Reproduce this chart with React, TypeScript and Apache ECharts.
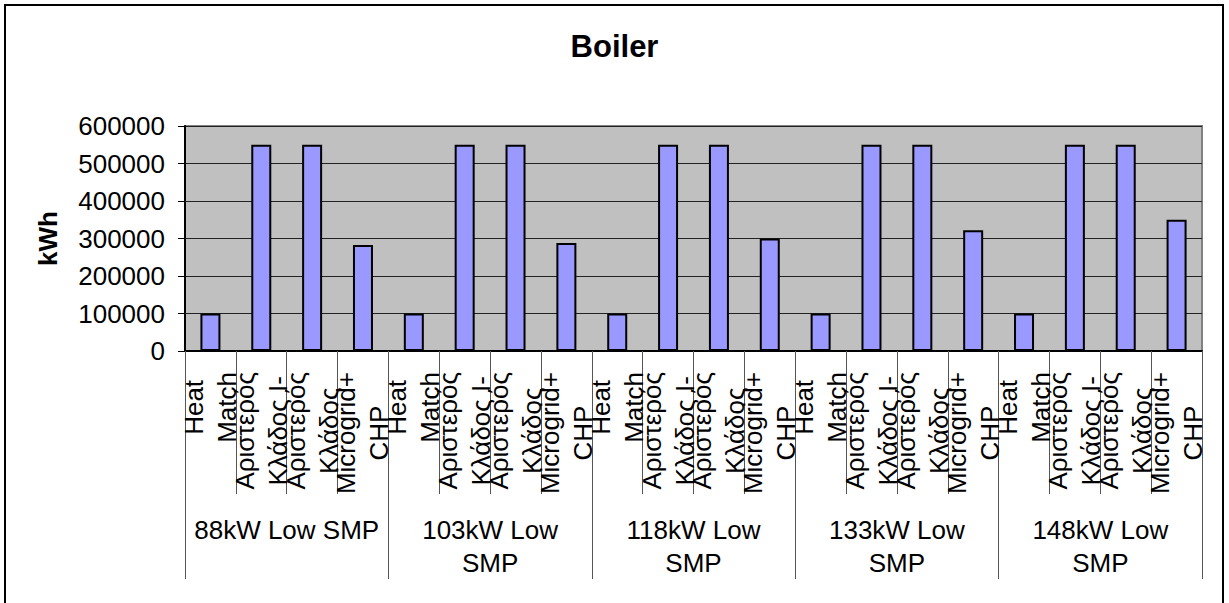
import React, { useEffect, useRef } from "react";
import * as echarts from "echarts";

// Groups (outer level of the category axis)
const groupLabels = [
  "88kW Low SMP",
  "103kW Low\nSMP",
  "118kW Low\nSMP",
  "133kW Low\nSMP",
  "148kW Low\nSMP",
];

// Categories inside each group (inner level)
const subLabels = [
  "Heat\nMatch",
  "Αριστερός\nΚλάδος I-",
  "Αριστερός\nΚλάδος",
  "Microgrid+\nCHP",
];

// Values per sub-category, one per group
const heatMatch = [100000, 100000, 100000, 100000, 100000];
const leftBranchI = [550000, 550000, 550000, 550000, 550000];
const leftBranch = [550000, 550000, 550000, 550000, 550000];
const microgridChp = [283000, 288000, 300000, 322000, 350000];

const yTicks = [0, 100000, 200000, 300000, 400000, 500000, 600000];

const FONT = "'Liberation Sans', Arial, sans-serif";
const FS = 26;

export default function App() {
  const ref = useRef<HTMLDivElement>(null);

  useEffect(() => {
    if (!ref.current) return;
    const chart = echarts.init(ref.current, undefined, { renderer: "svg" });

    const seriesByGroup = [heatMatch, leftBranchI, leftBranch, microgridChp];
    const categories: string[] = [];
    const values: number[] = [];
    groupLabels.forEach((g, gi) => {
      subLabels.forEach((s, si) => {
        categories.push(gi + "|" + si);
        values.push(seriesByGroup[si][gi]);
      });
    });

    const gridBox = { left: 185, right: 27, top: 126, bottom: 252 };

    chart.setOption({
      animation: false,
      backgroundColor: "#ffffff",
      textStyle: { fontFamily: FONT },
      title: {
        text: "Boiler",
        left: "center",
        top: 26,
        textStyle: { fontSize: 31, fontWeight: "bold", color: "#000", fontFamily: FONT },
      },
      graphic: [
        {
          type: "rect",
          shape: { x: 5, y: 5, width: 1218, height: 605 },
          style: { fill: "none", stroke: "#000", lineWidth: 2 },
          silent: true,
          z: 100,
        },
      ],
      grid: [
        {
          ...gridBox,
          show: true,
          backgroundColor: "#C0C0C0",
          borderColor: "#808080",
          borderWidth: 2,
        },
        { ...gridBox, show: false },
      ],
      xAxis: [
        {
          type: "category",
          gridIndex: 0,
          data: categories,
          boundaryGap: true,
          axisLine: { show: true, lineStyle: { color: "#000", width: 2 } },
          axisTick: {
            show: true,
            interval: 0,
            length: 143,
            lineStyle: { color: "#555", width: 1 },
          },
          axisLabel: {
            interval: 0,
            rotate: 90,
            margin: 21,
            color: "#000",
            fontSize: FS,
            lineHeight: 33,
            fontFamily: FONT,
            formatter: (v: string) => {
              const si = Number(v.split("|")[1]);
              return subLabels[si]
                .split("\n")
                .map((l) => "{c|" + l + "}")
                .join("\n");
            },
            rich: {
              c: {
                align: "center",
                fontSize: FS,
                lineHeight: 33,
                color: "#000",
                fontFamily: FONT,
              },
            },
          },
          splitLine: { show: false },
        },
        {
          type: "category",
          gridIndex: 1,
          data: groupLabels,
          position: "bottom",
          boundaryGap: true,
          axisLine: { show: false },
          axisTick: {
            show: true,
            interval: 0,
            length: 228,
            lineStyle: { color: "#555", width: 1 },
          },
          axisLabel: {
            interval: 0,
            margin: 162,
            color: "#000",
            fontSize: FS,
            lineHeight: 33,
            fontFamily: FONT,
          },
          splitLine: { show: false },
        },
      ],
      yAxis: [
        {
          type: "value",
          gridIndex: 0,
          min: yTicks[0],
          max: yTicks[yTicks.length - 1],
          interval: 100000,
          name: "kWh",
          nameLocation: "middle",
          nameRotate: 90,
          nameGap: 124,
          nameTextStyle: { fontSize: FS, fontWeight: "bold", color: "#000", fontFamily: FONT },
          axisLine: { show: true, lineStyle: { color: "#000", width: 2 } },
          axisTick: { show: true, length: 7, lineStyle: { color: "#000", width: 1 } },
          axisLabel: {
            margin: 20,
            fontSize: FS,
            color: "#000",
            fontFamily: FONT,
            formatter: (v: number) => String(v),
          },
          splitLine: { show: true, lineStyle: { color: "#222", width: 1 } },
        },
        {
          type: "value",
          gridIndex: 1,
          show: false,
          min: 0,
          max: 1,
        },
      ],
      series: [
        {
          type: "bar",
          xAxisIndex: 0,
          yAxisIndex: 0,
          data: values,
          barWidth: 20,
          itemStyle: { color: "#9999FF", borderColor: "#000", borderWidth: 2 },
        },
      ],
    });

    return () => chart.dispose();
  }, []);

  return (
    <div
      ref={ref}
      style={{ position: "fixed", left: 0, top: 0, width: 1229, height: 603 }}
    />
  );
}
